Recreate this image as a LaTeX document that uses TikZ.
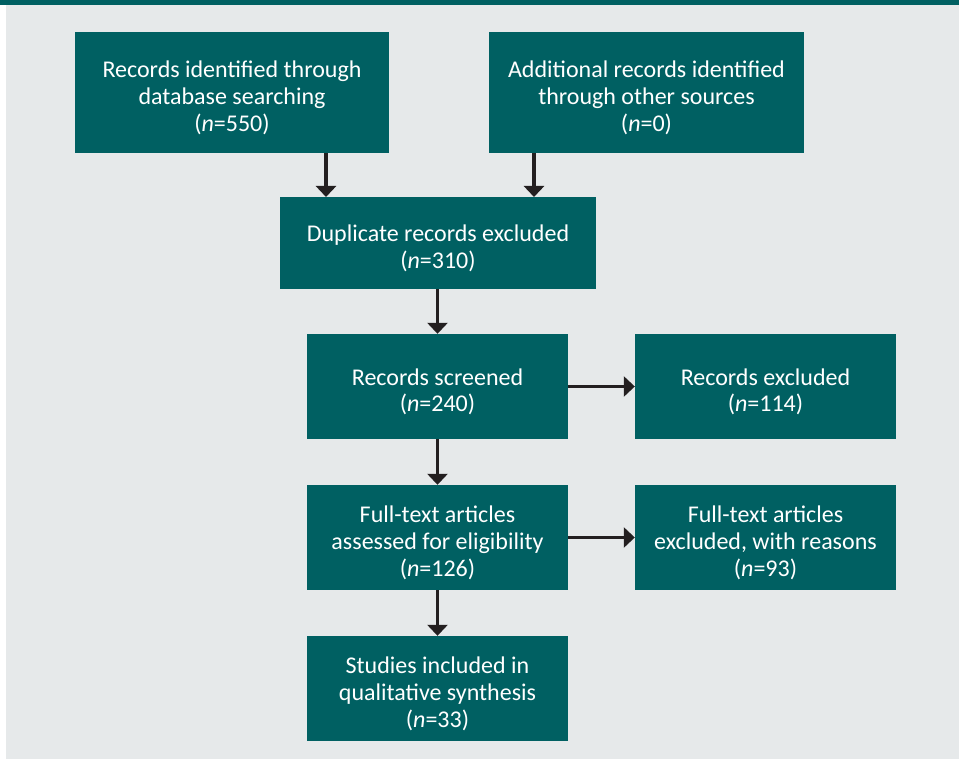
\documentclass[tikz,border=0pt]{standalone}
\usepackage{fontspec}
\setmainfont{Carlito}
\usetikzlibrary{arrows.meta}
\definecolor{tealbox}{RGB}{0,96,98}
\definecolor{panel}{RGB}{230,233,234}
\definecolor{arrowc}{RGB}{35,31,32}
\newcommand\topgap{\rule{0pt}{24pt}}
\tikzset{
  box/.style={rectangle,fill=tealbox,text=white,align=center,inner sep=0pt,
    font=\fontsize{24}{26.8}\selectfont,text depth=0pt},
  arr/.style={draw=arrowc,line width=3.5pt,-{Triangle[width=20pt,length=11pt]}}
}

\begin{document}
\begin{tikzpicture}[x=1pt,y=-1pt]
\useasboundingbox (0,0) rectangle (959,759);
\fill[white] (0,0) rectangle (959,759);
\fill[panel] (6,5) rectangle (959,759);
\fill[tealbox] (0,0) rectangle (959,5);
\node[box,minimum width=314pt,minimum height=121pt] (v1) at (232,92.5) {\topgap Records identified through\\database searching\\(\textit{n}=550)};
\node[box,minimum width=315pt,minimum height=121pt] (v2) at (646.5,92.5) {\topgap Additional records identified\\through other sources\\(\textit{n}=0)};
\node[box,minimum width=316pt,minimum height=92pt] (v3) at (438,243) {\topgap Duplicate records excluded\\(\textit{n}=310)};
\node[box,minimum width=261pt,minimum height=105pt] (v4) at (437.5,386.5) {\topgap Records screened\\(\textit{n}=240)};
\node[box,minimum width=261pt,minimum height=105pt] (v5) at (765.5,386.5) {\topgap Records excluded\\(\textit{n}=114)};
\node[box,minimum width=261pt,minimum height=105pt] (v6) at (437.5,537.5) {\topgap Full-text articles\\assessed for eligibility\\(\textit{n}=126)};
\node[box,minimum width=261pt,minimum height=105pt] (v7) at (765.5,537.5) {\topgap Full-text articles\\excluded, with reasons\\(\textit{n}=93)};
\node[box,minimum width=261pt,minimum height=105pt] (v8) at (437.5,688.5) {\topgap Studies included in\\qualitative synthesis\\(\textit{n}=33)};
\coordinate (c1) at (326,197);
\coordinate (c2) at (534,197);
\draw[arr] (v1.south -| c1) -- (c1);
\draw[arr] (v2.south -| c2) -- (c2);
\draw[arr] (v3.south -| v4.north) -- (v4.north);
\draw[arr] (v4) -- (v5);
\draw[arr] (v4) -- (v6);
\draw[arr] (v6) -- (v7);
\draw[arr] (v6) -- (v8);
\end{tikzpicture}
\end{document}
